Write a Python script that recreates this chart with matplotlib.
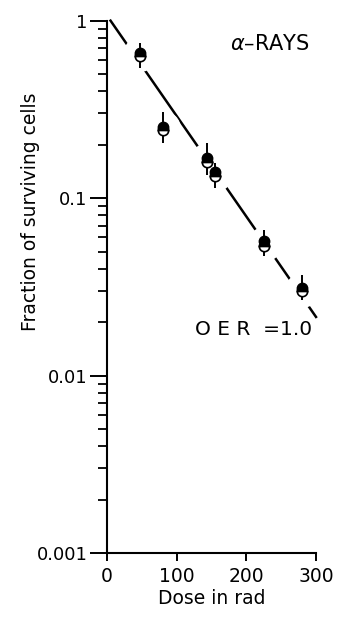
import numpy as np
import matplotlib.pyplot as plt
from matplotlib.ticker import FixedLocator, NullFormatter

# survival data (dose in rad, surviving fraction)
dose = [47, 81, 144, 155, 226, 280]
frac_filled = [0.66, 0.252, 0.168, 0.141, 0.057, 0.031]
frac_half = [0.63, 0.242, 0.160, 0.134, 0.054, 0.0300]
err_lo = [0.54, 0.205, 0.135, 0.114, 0.047, 0.0267]
err_hi = [0.75, 0.306, 0.205, 0.158, 0.066, 0.037]

# fitted straight line (log scale)
fit_dose = [5, 300]
fit_frac = [1.0, 0.0214]

xticks = [0, 100, 200, 300]
yticks = [0.001, 0.01, 0.1, 1]
ytick_labels = ["0.001", "0.01", "0.1", "1"]

plt.rcParams["font.family"] = ["DejaVu Sans"]

fig = plt.figure(figsize=(3.42, 6.26), dpi=100)
ax = fig.add_axes([0.313, 0.1166, 0.611, 0.8504])

ax.set_yscale("log")
ax.set_xlim(0, 300)
ax.set_ylim(0.001, 1)

# fit line, with white halos around the points to break it
ax.plot(fit_dose, fit_frac, color="black", lw=1.8, zorder=1, clip_on=False)
mid = np.sqrt(np.array(frac_filled) * np.array(frac_half))
ax.plot(dose, mid, "o", ms=25, color="white", mec="none", zorder=2)

# error bars
ax.vlines(dose, err_lo, err_hi, color="black", lw=1.4, zorder=3)
ax.plot(dose, frac_filled, "o", ms=7.5, color="black", mec="black", zorder=4)
ax.plot(dose, frac_half, "o", ms=7.5, fillstyle="top", color="black",
        mec="black", mfc="black", mfcalt="white", mew=1.2, zorder=5)

ax.spines[["top", "right"]].set_visible(False)
ax.spines[["left", "bottom"]].set_linewidth(1.5)

ax.set_xticks(xticks)
ax.set_xticklabels([str(t) for t in xticks])
ax.yaxis.set_major_locator(FixedLocator(yticks))
ax.set_yticklabels(ytick_labels)
minors = [m * d for d in [0.001, 0.01, 0.1] for m in range(2, 10)]
ax.yaxis.set_minor_locator(FixedLocator(minors))
ax.yaxis.set_minor_formatter(NullFormatter())

ax.tick_params(axis="y", which="major", direction="out", length=12, width=1.4,
               labelsize=13, pad=2)
ax.tick_params(axis="y", which="minor", direction="out", length=6.5, width=1.3)
ax.tick_params(axis="x", which="major", direction="out", length=6, width=1.4,
               labelsize=13.5, pad=4)

ax.set_xlabel("Dose in rad", fontsize=13.5, labelpad=2)
fig.text(0.088, 0.662, "Fraction of surviving cells", rotation=90,
         fontsize=13.5, ha="center", va="center")

ax.text(0.97, 0.957, r"$\alpha$" + "\u2013RAYS", transform=ax.transAxes,
        fontsize=15, ha="right", va="center")
ax.text(0.98, 0.42, "O E R  =1.0", transform=ax.transAxes,
        fontsize=14.5, ha="right", va="center")

fig.savefig("out.png", dpi=100)
